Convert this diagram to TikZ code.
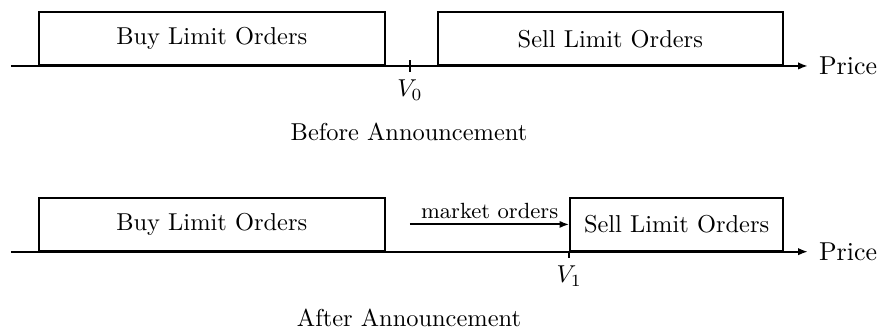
\documentclass[tikz,border=0pt]{standalone}
\usepackage{tikz}
\usetikzlibrary{arrows.meta, positioning}

\begin{document}
\begin{tikzpicture}[
    font=\normalsize,
    book/.style={draw, thick, anchor=south west, minimum height=0.756cm, inner sep=0pt},
    ar/.style={-{Latex[length=4pt, width=3pt]}, thick}
]
\useasboundingbox (0,0) rectangle (12.66,4.733);
% price axes and buy side, before (0) and after (1)
\foreach \n/\y in {0/3.784, 1/1.112} {
   \coordinate (a\n) at (0.158,\y);
   \coordinate (e\n) at (11.624,\y);
   \node[book, minimum width=4.982cm] (buy\n) at (a\n -| 0.542,0) {Buy Limit Orders};
   \draw[ar] (a\n) -- (e\n);
   \node[right=1pt of e\n, font=\fontsize{10.6}{13}\selectfont] (price\n) {Price};
}
% before announcement
\node[book, minimum width=4.967cm] (sell0) at (6.283,3.784) {Sell Limit Orders};
\coordinate (v0) at (5.898,3.784);
\draw[thick] ([yshift=0.08cm]v0) -- ([yshift=-0.08cm]v0) coordinate (v0b);
\node[below=0pt of v0b] (v0l) {$V_0$};
\node (cap0) at (5.884,2.834) {Before Announcement};
% after announcement
\node[book, minimum width=3.06cm] (sell1) at (8.19,1.112) {Sell Limit Orders};
\coordinate (v1) at (8.19,1.112);
\draw[thick] (v1) -- ([yshift=-0.086cm]v1) coordinate (v1b);
\node[below=0pt of v1b] (v1l) {$V_1$};
\coordinate (m0) at (sell1.west -| v0);
\draw[ar] (m0) -- (sell1.west) node[midway, above, inner sep=2pt, font=\small] (mkt) {market orders};
\node (cap1) at (5.884,0.158) {After Announcement};
\end{tikzpicture}
\end{document}
